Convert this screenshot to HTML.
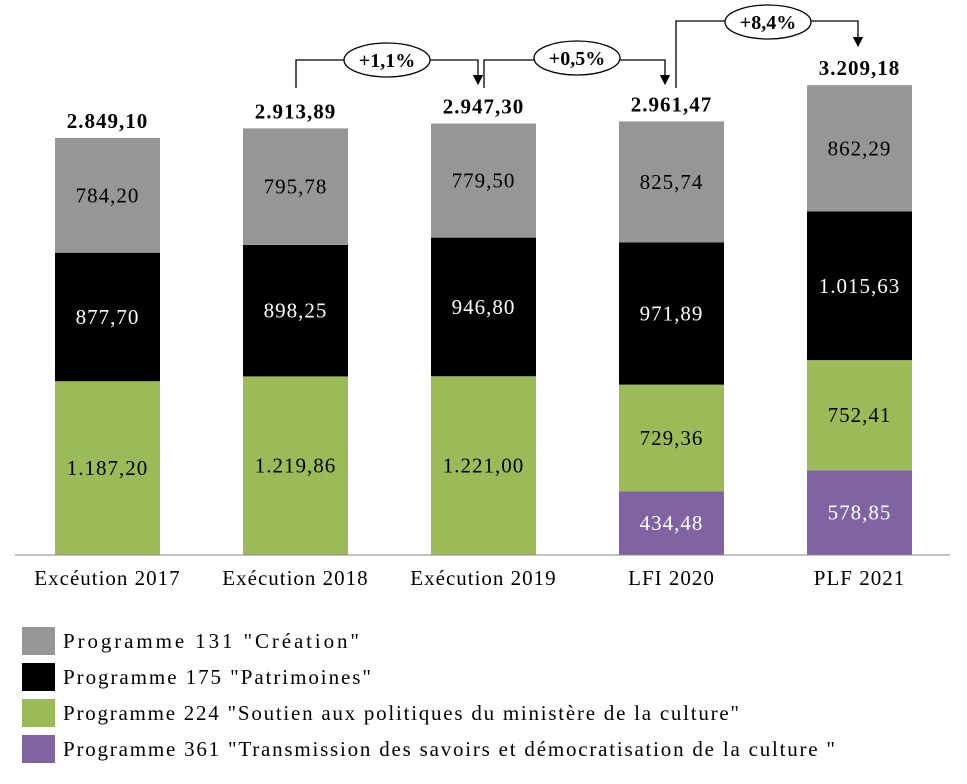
<!DOCTYPE html>
<html><head><meta charset="utf-8">
<style>
body{margin:0;background:#fff;}
svg text{font-family:"Liberation Serif",serif;}
</style></head>
<body>
<svg id="chart" width="967" height="779" xmlns="http://www.w3.org/2000/svg">
<defs><marker id="ah" markerWidth="8" markerHeight="8" refX="4" refY="4" orient="auto"><path d="M0,0 L8,4 L0,8 z" fill="#000"/></marker></defs>
<g id="bars"></g>
<line x1="15" y1="555" x2="950" y2="555" stroke="#888" stroke-width="1"/>
<g id="cats"></g>
<g id="arrows" fill="none" stroke="#000" stroke-width="1.3">
<polyline points="296,88 296,60 478,60 478,80" marker-end="url(#ah)"/>
<polyline points="484,88 484,60 665,60 665,80" marker-end="url(#ah)"/>
<polyline points="676,88 676,21 858,21 858,42" marker-end="url(#ah)"/>
</g>
<g><ellipse cx="387" cy="60" rx="43" ry="17" fill="#fff" stroke="#000" stroke-width="1.3"/><text x="387" y="67" text-anchor="middle" font-size="20" font-weight="bold">+1,1%</text></g>
<g><ellipse cx="577" cy="58" rx="43" ry="17" fill="#fff" stroke="#000" stroke-width="1.3"/><text x="577" y="65" text-anchor="middle" font-size="20" font-weight="bold">+0,5%</text></g>
<g><ellipse cx="768" cy="22" rx="43" ry="17" fill="#fff" stroke="#000" stroke-width="1.3"/><text x="768" y="29" text-anchor="middle" font-size="20" font-weight="bold">+8,4%</text></g>
<g id="legend"></g>
</svg>
<script>
const categories=["Excéution 2017","Exécution 2018","Exécution 2019","LFI 2020","PLF 2021"];
const p361=[0,0,0,434.48,578.85];
const p224=[1187.20,1219.86,1221.00,729.36,752.41];
const p175=[877.70,898.25,946.80,971.89,1015.63];
const p131=[784.20,795.78,779.50,825.74,862.29];
const totals=[2849.10,2913.89,2947.30,2961.47,3209.18];
const seriesNames=['Programme 131 "Création"','Programme 175 "Patrimoines"','Programme 224 "Soutien aux politiques du ministère de la culture"','Programme 361 "Transmission des savoirs et démocratisation de la culture "'];
const NS="http://www.w3.org/2000/svg";
const base=555,scale=0.1464,x0=55,step=188,bw=105;
const yS=v=>v*scale;
const xC=i=>x0+i*step;
const fmt=v=>{let s=v.toFixed(2).split('.');return s[0].replace(/\B(?=(\d{3})+(?!\d))/g,'.')+','+s[1];};
function mk(tag,attrs,parent){const e=document.createElementNS(NS,tag);for(const k in attrs)e.setAttribute(k,attrs[k]);parent.appendChild(e);return e;}
const bars=document.getElementById('bars');
const stack=[[p361,'#8064A2','#fff','p361'],[p224,'#9BBB59','#000','p224'],[p175,'#000','#fff','p175'],[p131,'#969696','#000','p131']];
categories.forEach((c,i)=>{
  let y=base;
  stack.forEach(([arr,col,tc,nm])=>{
    const v=arr[i]; if(!v) return;
    const h=yS(v); y-=h;
    const r=mk('rect',{x:xC(i),y:y,width:bw,height:h,fill:col},bars);
    
    
    const t=mk('text',{x:xC(i)+bw/2,y:y+h/2+7,'text-anchor':'middle','font-size':'21','letter-spacing':'1',fill:tc},bars);
    t.textContent=fmt(v);
    
    
  });
  const tt=mk('text',{x:xC(i)+bw/2,y:base-yS(totals[i])-10,'text-anchor':'middle','font-size':'21','letter-spacing':'1','font-weight':'bold'},bars);
  tt.textContent=fmt(totals[i]);
  
  
  const ct=mk('text',{x:xC(i)+bw/2,y:585,'text-anchor':'middle','font-size':'21','letter-spacing':'1'},document.getElementById('cats'));
  ct.textContent=c;
  
  
});
const lg=document.getElementById('legend');
const lcols=['#969696','#000','#9BBB59','#8064A2'];
const lwidths=[296,308,676,772];
seriesNames.forEach((n,i)=>{
  const y=627+i*36;
  const r=mk('rect',{x:22,y:y,width:33,height:28,fill:lcols[i]},lg);
  
  
  const t=mk('text',{x:63,y:y+21,'font-size':'21',textLength:lwidths[i],lengthAdjust:'spacing'},lg);
  t.textContent=n;
  
  
});
</script>
</body></html>
